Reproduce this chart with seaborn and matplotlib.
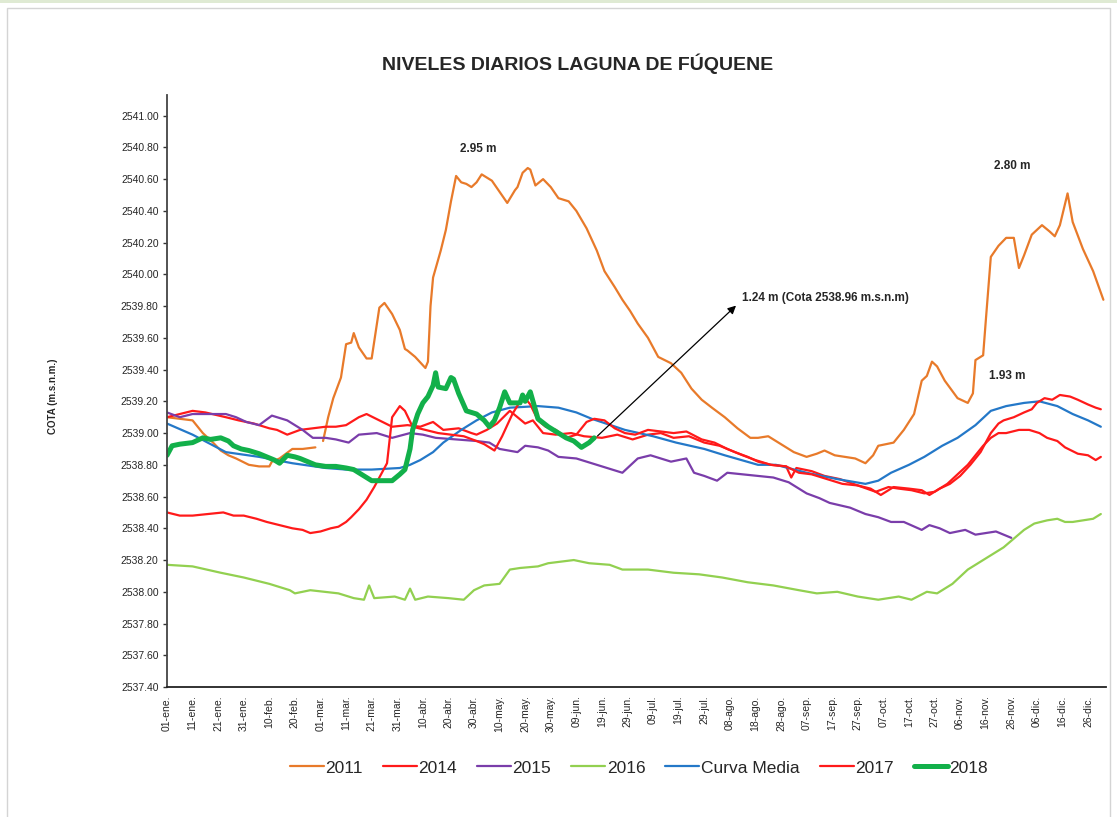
import numpy as np
import pandas as pd
import matplotlib
matplotlib.use('Agg')
import matplotlib.pyplot as plt
import seaborn as sns
from matplotlib.patches import Rectangle

sns.set_style('ticks')
plt.rcParams['font.family'] = ['Liberation Sans', 'DejaVu Sans']

# ---- datos (dia del año, cota m.s.n.m.) ----
d2011a = [0, 5, 10, 14, 18, 21, 24, 27, 32, 36, 40, 41, 44, 49, 53, 58]
v2011a = [2539.10, 2539.09, 2539.08, 2539.00, 2538.94, 2538.89, 2538.86, 2538.84,
          2538.80, 2538.79, 2538.79, 2538.82, 2538.84, 2538.90, 2538.90, 2538.91]

d2011b = [61, 63, 65, 68, 70, 72, 73, 75, 78, 80, 83, 85, 88, 91, 93, 94, 97, 101, 102, 103,
          104, 107, 109, 111, 113, 115, 117, 119, 121, 123, 125, 127, 130, 133, 136, 137, 139,
          141, 142, 144, 147, 150, 153, 157, 160, 164, 168, 171, 175, 178, 181, 184, 188, 192,
          197, 201, 205, 209, 213, 218, 223, 228, 231, 235, 239, 241, 245, 250, 254, 257, 261,
          265, 269, 273, 276, 278, 281, 284, 288, 292, 295, 297, 299, 301, 304, 309, 313, 315,
          316, 319, 320, 322, 325, 328, 331, 333, 335, 338, 342, 345, 347, 349, 352, 354, 358,
          362, 366]
v2011b = [2538.95, 2539.10, 2539.22, 2539.35, 2539.56, 2539.57, 2539.63, 2539.54, 2539.47,
          2539.47, 2539.79, 2539.82, 2539.75, 2539.65, 2539.53, 2539.52, 2539.48, 2539.41,
          2539.45, 2539.80, 2539.98, 2540.15, 2540.28, 2540.46, 2540.62, 2540.58, 2540.57,
          2540.55, 2540.58, 2540.63, 2540.61, 2540.59, 2540.52, 2540.45, 2540.53, 2540.55,
          2540.64, 2540.67, 2540.66, 2540.56, 2540.60, 2540.55, 2540.48, 2540.46, 2540.40,
          2540.29, 2540.15, 2540.02, 2539.92, 2539.84, 2539.77, 2539.69, 2539.60, 2539.48,
          2539.44, 2539.38, 2539.28, 2539.21, 2539.16, 2539.10, 2539.03, 2538.97, 2538.97,
          2538.98, 2538.94, 2538.92, 2538.88, 2538.85, 2538.87, 2538.89, 2538.86, 2538.85,
          2538.84, 2538.81, 2538.86, 2538.92, 2538.93, 2538.94, 2539.02, 2539.12, 2539.33,
          2539.36, 2539.45, 2539.42, 2539.33, 2539.22, 2539.19, 2539.25, 2539.46, 2539.49,
          2539.70, 2540.11, 2540.18, 2540.23, 2540.23, 2540.04, 2540.12, 2540.25, 2540.31,
          2540.27, 2540.24, 2540.31, 2540.51, 2540.33, 2540.16, 2540.02, 2539.84]

d2014 = [0, 5, 10, 15, 23, 28, 34, 40, 43, 47, 52, 57, 62, 66, 70, 75, 78, 83, 88, 94, 99,
         104, 108, 114, 119, 121, 125, 129, 134, 137, 140, 143, 147, 152, 158, 163, 170, 176,
         182, 188, 193, 198, 204, 210, 216, 222, 227, 231, 236, 242, 244, 246, 252, 257, 263,
         270, 277, 282, 286, 291, 296, 300, 305, 309, 313, 316, 319, 322, 325, 328, 333, 337,
         341, 344, 348, 351, 356, 360, 363, 365]
v2014 = [2539.10, 2539.12, 2539.14, 2539.13, 2539.10, 2539.08, 2539.06, 2539.03, 2539.02,
         2538.99, 2539.02, 2539.03, 2539.04, 2539.04, 2539.05, 2539.10, 2539.12, 2539.08,
         2539.04, 2539.05, 2539.04, 2539.07, 2539.02, 2539.03, 2539.00, 2538.99, 2539.02,
         2539.06, 2539.14, 2539.10, 2539.06, 2539.08, 2539.00, 2538.99, 2539.00, 2538.98,
         2538.97, 2538.99, 2538.96, 2538.99, 2539.00, 2538.97, 2538.98, 2538.94, 2538.92,
         2538.88, 2538.85, 2538.82, 2538.80, 2538.79, 2538.72, 2538.78, 2538.76, 2538.73,
         2538.71, 2538.67, 2538.63, 2538.66, 2538.65, 2538.64, 2538.62, 2538.63, 2538.68,
         2538.74, 2538.80, 2538.86, 2538.92, 2538.97, 2539.00, 2539.00, 2539.02, 2539.02,
         2539.00, 2538.97, 2538.95, 2538.91, 2538.87, 2538.86, 2538.83, 2538.85]

d2015 = [0, 5, 10, 16, 23, 27, 31, 36, 41, 47, 53, 57, 62, 66, 71, 75, 82, 88, 95, 100, 105,
         113, 121, 126, 130, 137, 140, 145, 149, 153, 160, 166, 172, 178, 182, 184, 189, 193,
         197, 203, 206, 210, 215, 219, 225, 231, 237, 243, 250, 255, 259, 267, 273, 278, 283,
         288, 295, 298, 302, 306, 312, 316, 320, 324, 327, 330]
v2015 = [2539.13, 2539.10, 2539.12, 2539.12, 2539.12, 2539.10, 2539.07, 2539.05, 2539.11,
         2539.08, 2539.02, 2538.97, 2538.97, 2538.96, 2538.94, 2538.99, 2539.00, 2538.97,
         2539.00, 2538.99, 2538.97, 2538.96, 2538.95, 2538.94, 2538.90, 2538.88, 2538.92,
         2538.91, 2538.89, 2538.85, 2538.84, 2538.81, 2538.78, 2538.75, 2538.81, 2538.84,
         2538.86, 2538.84, 2538.82, 2538.84, 2538.75, 2538.73, 2538.70, 2538.75, 2538.74,
         2538.73, 2538.72, 2538.69, 2538.62, 2538.59, 2538.56, 2538.53, 2538.49, 2538.47,
         2538.44, 2538.44, 2538.39, 2538.42, 2538.40, 2538.37, 2538.39, 2538.36, 2538.37,
         2538.38, 2538.36, 2538.34]

d2016 = [0, 10, 21, 30, 40, 48, 50, 56, 67, 73, 77, 79, 81, 89, 93, 95, 97, 102, 110, 116,
         120, 124, 130, 134, 138, 145, 149, 159, 165, 173, 178, 188, 198, 208, 217, 227, 237,
         247, 254, 262, 270, 278, 286, 291, 297, 301, 307, 313, 320, 327, 335, 339, 344, 348,
         351, 354, 358, 362, 365]
v2016 = [2538.17, 2538.16, 2538.12, 2538.09, 2538.05, 2538.01, 2537.99, 2538.01, 2537.99,
         2537.96, 2537.95, 2538.04, 2537.96, 2537.97, 2537.95, 2538.02, 2537.95, 2537.97,
         2537.96, 2537.95, 2538.01, 2538.04, 2538.05, 2538.14, 2538.15, 2538.16, 2538.18,
         2538.20, 2538.18, 2538.17, 2538.14, 2538.14, 2538.12, 2538.11, 2538.09, 2538.06,
         2538.04, 2538.01, 2537.99, 2538.00, 2537.97, 2537.95, 2537.97, 2537.95, 2538.00,
         2537.99, 2538.05, 2538.14, 2538.21, 2538.28, 2538.39, 2538.43, 2538.45, 2538.46,
         2538.44, 2538.44, 2538.45, 2538.46, 2538.49]

d_media = [0, 10, 23, 36, 49, 62, 70, 80, 91, 95, 99, 104, 108, 115, 121, 127, 134, 145, 153,
           160, 166, 179, 190, 199, 210, 218, 231, 238, 250, 262, 273, 278, 283, 290, 296, 303,
           309, 316, 322, 328, 335, 341, 348, 354, 360, 365]
v_media = [2539.06, 2538.99, 2538.88, 2538.85, 2538.81, 2538.78, 2538.77, 2538.77, 2538.78,
           2538.80, 2538.83, 2538.88, 2538.94, 2539.02, 2539.08, 2539.13, 2539.16, 2539.17,
           2539.16, 2539.13, 2539.09, 2539.02, 2538.98, 2538.94, 2538.90, 2538.86, 2538.80,
           2538.80, 2538.75, 2538.71, 2538.68, 2538.70, 2538.75, 2538.80, 2538.85, 2538.92,
           2538.97, 2539.05, 2539.14, 2539.17, 2539.19, 2539.20, 2539.17, 2539.12, 2539.08,
           2539.04]

d2017 = [0, 5, 10, 16, 22, 26, 30, 35, 39, 44, 49, 53, 56, 60, 64, 67, 70, 72, 75, 78, 81,
         83, 86, 88, 91, 93, 96, 101, 106, 111, 116, 121, 124, 128, 131, 135, 138, 140, 142,
         145, 148, 152, 156, 160, 164, 167, 171, 175, 179, 183, 188, 193, 198, 203, 209, 214,
         219, 225, 230, 236, 242, 247, 252, 258, 264, 270, 275, 279, 284, 290, 295, 298, 302,
         306, 310, 314, 318, 322, 325, 327, 331, 335, 338, 340, 343, 346, 349, 353, 356, 360,
         363, 365]
v2017 = [2538.50, 2538.48, 2538.48, 2538.49, 2538.50, 2538.48, 2538.48, 2538.46, 2538.44,
         2538.42, 2538.40, 2538.39, 2538.37, 2538.38, 2538.40, 2538.41, 2538.44, 2538.47,
         2538.52, 2538.58, 2538.66, 2538.72, 2538.81, 2539.10, 2539.17, 2539.14, 2539.04,
         2539.02, 2539.00, 2538.99, 2538.98, 2538.95, 2538.93, 2538.89, 2538.98, 2539.12,
         2539.20, 2539.22, 2539.18, 2539.08, 2539.04, 2539.02, 2538.97, 2538.99, 2539.07,
         2539.09, 2539.08, 2539.03, 2539.00, 2538.99, 2539.02, 2539.01, 2539.00, 2539.01,
         2538.96, 2538.94, 2538.90, 2538.86, 2538.83, 2538.80, 2538.79, 2538.75, 2538.74,
         2538.71, 2538.68, 2538.67, 2538.65, 2538.61, 2538.66, 2538.65, 2538.64, 2538.61,
         2538.65, 2538.68, 2538.73, 2538.80, 2538.88, 2539.00, 2539.06, 2539.08, 2539.10,
         2539.13, 2539.15, 2539.19, 2539.22, 2539.21, 2539.24, 2539.23, 2539.21, 2539.18,
         2539.16, 2539.15]

d2018 = [0, 2, 5, 10, 14, 17, 21, 24, 26, 29, 32, 36, 39, 42, 44, 47, 50, 52, 55, 58, 62,
         66, 70, 73, 75, 78, 80, 84, 88, 91, 93, 95, 96, 98, 100, 102, 104, 105, 106, 109,
         111, 112, 114, 117, 121, 124, 126, 128, 130, 132, 134, 138, 139, 140, 142, 145, 149,
         153, 156, 159, 162, 165, 167]
v2018 = [2538.86, 2538.92, 2538.93, 2538.94, 2538.97, 2538.96, 2538.97, 2538.95, 2538.92,
         2538.90, 2538.89, 2538.87, 2538.85, 2538.83, 2538.81, 2538.86, 2538.85, 2538.84,
         2538.82, 2538.80, 2538.79, 2538.79, 2538.78, 2538.77, 2538.75, 2538.72, 2538.70,
         2538.70, 2538.70, 2538.74, 2538.77, 2538.90, 2539.02, 2539.12, 2539.19, 2539.23,
         2539.30, 2539.38, 2539.29, 2539.28, 2539.35, 2539.34, 2539.25, 2539.14, 2539.12,
         2539.08, 2539.04, 2539.08, 2539.16, 2539.26, 2539.19, 2539.19, 2539.24, 2539.20,
         2539.26, 2539.09, 2539.04, 2539.00, 2538.97, 2538.95, 2538.91, 2538.94, 2538.97]

x_labels = ['01-ene.', '11-ene.', '21-ene.', '31-ene.', '10-feb.', '20-feb.', '01-mar.',
            '11-mar.', '21-mar.', '31-mar.', '10-abr.', '20-abr.', '30-abr.', '10-may.',
            '20-may.', '30-may.', '09-jun.', '19-jun.', '29-jun.', '09-jul.', '19-jul.',
            '29-jul.', '08-ago.', '18-ago.', '28-ago.', '07-sep.', '17-sep.', '27-sep.',
            '07-oct.', '17-oct.', '27-oct.', '06-nov.', '16-nov.', '26-nov.', '06-dic.',
            '16-dic.', '26-dic.']

fig = plt.figure(figsize=(11.17, 8.17), dpi=100)
ax = fig.add_axes([0.1495, 0.1591, 0.8406, 0.7246])

c_orange = '#E87A2A'
c_red = '#FF1A1A'
c_purple = '#7A3DAA'
c_lgreen = '#92D050'
c_blue = '#2478C8'
c_green = '#12B04A'

lw = 1.6
sns.lineplot(x=d2011a, y=v2011a, ax=ax, color=c_orange, lw=lw, estimator=None, sort=False, label='2011')
sns.lineplot(x=d2011b, y=v2011b, ax=ax, color=c_orange, lw=lw, estimator=None, sort=False, label='_nolegend_')
sns.lineplot(x=d2014, y=v2014, ax=ax, color=c_red, lw=lw, estimator=None, sort=False, label='2014')
sns.lineplot(x=d2015, y=v2015, ax=ax, color=c_purple, lw=lw, estimator=None, sort=False, label='2015')
sns.lineplot(x=d2016, y=v2016, ax=ax, color=c_lgreen, lw=lw, estimator=None, sort=False, label='2016')
sns.lineplot(x=d_media, y=v_media, ax=ax, color=c_blue, lw=lw, estimator=None, sort=False, label='Curva Media')
sns.lineplot(x=d2017, y=v2017, ax=ax, color=c_red, lw=lw, estimator=None, sort=False, label='2017')
sns.lineplot(x=d2018, y=v2018, ax=ax, color=c_green, lw=3.6, estimator=None, sort=False, label='2018')

ax.set_xlim(0, 367)
ax.set_ylim(2537.4, 2541.13)
ax.set_xlabel('')
ax.set_ylabel('')

ax.set_yticks(np.arange(2537.4, 2541.01, 0.2))
ax.set_yticklabels(['%.2f' % v for v in np.arange(2537.4, 2541.01, 0.2)])
ax.tick_params(axis='y', direction='out', length=3, width=1, labelsize=7.5, pad=3, color='#333333')

ax.set_xticks([10 * i for i in range(len(x_labels))])
ax.set_xticklabels(x_labels, rotation=90)
ax.tick_params(axis='x', which='major', length=0, labelsize=7.5, pad=6)
ax.set_xticks(np.arange(0, 367, 40), minor=True)
ax.tick_params(axis='x', which='minor', direction='out', length=3.5, width=1, color='#222222')

sns.despine(ax=ax)
ax.spines['left'].set_linewidth(1.3)
ax.spines['left'].set_color('#444444')
ax.spines['bottom'].set_linewidth(1.3)
ax.spines['bottom'].set_color('#222222')

# anotaciones
fs_ann = 8.5
ax.text(114.5, 2540.79, '2.95 m', fontsize=fs_ann, fontweight='bold', va='center', ha='left')
ax.text(323.3, 2540.685, '2.80 m', fontsize=fs_ann, fontweight='bold', va='center', ha='left')
ax.text(321.4, 2539.357, '1.93 m', fontsize=fs_ann, fontweight='bold', va='center', ha='left')
ax.text(224.6, 2539.85, '1.24 m (Cota 2538.96 m.s.n.m)', fontsize=fs_ann, fontweight='bold',
        va='center', ha='left')
ax.annotate('', xy=(223.2, 2539.815), xytext=(167.5, 2538.97),
            arrowprops=dict(arrowstyle='-|>', color='black', lw=0.9, mutation_scale=12))

fig.text(578 / 1117, 1 - 64 / 817, 'NIVELES DIARIOS LAGUNA DE FÚQUENE', fontsize=14,
         fontweight='bold', ha='center', va='center')
fig.text(53 / 1117, 1 - 396 / 817, 'COTA (m.s.n.m.)', fontsize=7, fontweight='bold',
         rotation=90, ha='center', va='center')

handles, labels = ax.get_legend_handles_labels()
ax.legend(handles, labels, loc='center', bbox_to_anchor=(0.572, 0.060),
          bbox_transform=fig.transFigure, ncol=7, frameon=False, fontsize=12.5,
          handlelength=1.95, handletextpad=0.1, columnspacing=1.15)

# marco de la imagen
fig.patches.append(Rectangle((7 / 1117, -0.01), (1110 - 7) / 1117, 1.01 - 8 / 817,
                             transform=fig.transFigure, fill=False, edgecolor='#d4d4d4', lw=1))
fig.patches.append(Rectangle((0, 1 - 3 / 817), 1, 3 / 817, transform=fig.transFigure,
                             color='#dfead3', lw=0))

fig.savefig('out.png', dpi=100)
